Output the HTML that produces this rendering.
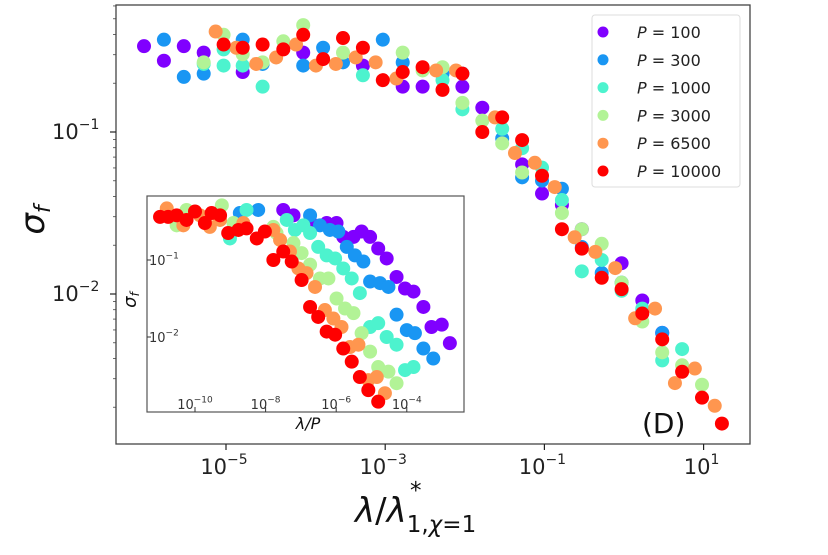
<!DOCTYPE html>
<html><head><meta charset="utf-8">
<style>
html,body{margin:0;padding:0;background:#fff;}
svg{display:block;font-family:"DejaVu Sans","Liberation Sans",sans-serif;}
</style></head>
<body>
<svg id="chart" width="828" height="555" viewBox="0 0 828 555"></svg>
<script>
// ---- data (log10 values) ----
const seriesNames = ["P = 100","P = 300","P = 1000","P = 3000","P = 6500","P = 10000"];
const seriesLabels = ["100","300","1000","3000","6500","10000"];
const colors = ["#8000ff","#1996f3","#4df3ce","#b2f396","#ff964f","#ff0000"];

const mainX100 = [-6.03,-5.78,-5.53,-5.28,-4.79,-4.03,-3.28,-2.78,-2.53,-2.03,-1.78,-1.28,-1.03,-0.78,-0.53,-0.03,0.23,0.48];
const mainY100 = [-0.47,-0.56,-0.47,-0.51,-0.63,-0.51,-0.59,-0.72,-0.72,-0.72,-0.85,-1.20,-1.38,-1.45,-1.60,-1.81,-2.04,-2.24];
const mainX300 = [-5.78,-5.53,-5.28,-4.79,-4.54,-4.03,-3.78,-3.53,-3.03,-2.78,-2.28,-2.03,-1.53,-1.28,-1.03,-0.78,-0.53,-0.28,-0.03,0.23,0.48];
const mainY300 = [-0.43,-0.66,-0.64,-0.43,-0.58,-0.59,-0.48,-0.57,-0.43,-0.57,-0.64,-0.64,-1.04,-1.28,-1.30,-1.35,-1.71,-1.87,-1.93,-2.10,-2.24];
const mainX1000 = [-5.28,-5.03,-5.03,-4.79,-4.54,-3.28,-2.28,-2.03,-1.53,-1.28,-1.03,-0.78,-0.53,-0.28,-0.03,0.23,0.48,0.73];
const mainY1000 = [-0.58,-0.49,-0.59,-0.59,-0.72,-0.65,-0.68,-0.86,-0.98,-1.10,-1.22,-1.42,-1.86,-1.79,-1.98,-2.09,-2.41,-2.34];
const mainX3000 = [-5.28,-5.03,-4.79,-4.54,-4.28,-4.03,-3.53,-2.78,-2.53,-2.28,-2.03,-1.78,-1.53,-1.28,-0.78,-0.53,-0.28,-0.03,0.23,0.48,0.73,0.98];
const mainY3000 = [-0.57,-0.40,-0.52,-0.57,-0.44,-0.34,-0.51,-0.51,-0.62,-0.60,-0.82,-0.93,-1.07,-1.25,-1.50,-1.60,-1.69,-1.93,-2.17,-2.36,-2.44,-2.56];
const mainX6500 = [-5.13,-4.87,-4.62,-4.37,-4.12,-3.87,-3.62,-3.37,-3.12,-2.86,-2.36,-2.11,-1.62,-1.37,-1.12,-0.87,-0.62,-0.36,-0.11,0.14,0.39,0.64,0.89,1.14];
const mainY6500 = [-0.38,-0.48,-0.58,-0.54,-0.46,-0.59,-0.58,-0.54,-0.57,-0.67,-0.62,-0.62,-0.91,-1.13,-1.19,-1.34,-1.65,-1.74,-1.84,-2.15,-2.09,-2.55,-2.46,-2.69];
const mainX10000 = [-5.03,-4.79,-4.54,-4.28,-4.03,-3.78,-3.53,-3.28,-3.03,-2.78,-2.53,-2.28,-2.03,-1.78,-1.53,-1.28,-1.03,-0.78,-0.53,-0.28,-0.03,0.23,0.48,0.73,0.98,1.23];
const mainY10000 = [-0.46,-0.48,-0.46,-0.49,-0.40,-0.55,-0.42,-0.48,-0.68,-0.63,-0.60,-0.74,-0.64,-1.00,-0.91,-1.05,-1.27,-1.60,-1.72,-1.90,-1.97,-2.12,-2.28,-2.48,-2.64,-2.80];

const insX100 = [-7.50,-7.21,-6.74,-6.27,-5.99,-5.80,-5.51,-5.28,-5.04,-4.81,-4.57,-4.29,-4.05,-3.81,-3.53,-3.30,-3.01,-2.78];
const insY100 = [-0.35,-0.42,-0.50,-0.52,-0.52,-0.70,-0.70,-0.63,-0.70,-0.85,-0.98,-1.22,-1.37,-1.41,-1.61,-1.87,-1.84,-2.08];
const insX300 = [-8.73,-8.21,-6.74,-6.46,-6.18,-5.94,-5.70,-5.47,-5.23,-5.04,-4.76,-4.52,-4.29,-4.00,-3.77,-3.53,-3.25];
const insY300 = [-0.39,-0.35,-0.42,-0.55,-0.61,-0.63,-0.83,-0.94,-1.02,-1.28,-1.30,-1.35,-1.71,-1.91,-1.95,-2.15,-2.28];
const insX1000 = [-9.01,-8.54,-7.40,-7.17,-6.93,-6.74,-6.51,-6.27,-6.03,-5.80,-5.56,-5.33,-5.04,-4.81,-4.57,-4.29,-4.05,-3.81];
const insY1000 = [-0.72,-0.35,-0.48,-0.61,-0.55,-0.65,-0.83,-0.94,-0.98,-1.11,-1.24,-1.43,-1.87,-1.82,-2.00,-2.10,-2.43,-2.39];
const insX3000 = [-10.52,-10.24,-9.24,-8.91,-7.78,-7.69,-7.21,-6.98,-6.74,-6.46,-6.22,-5.99,-5.75,-5.51,-5.28,-5.04,-4.81,-4.52,-4.29];
const insY3000 = [-0.55,-0.35,-0.29,-0.52,-0.57,-0.65,-0.78,-0.91,-1.06,-1.24,-1.24,-1.50,-1.63,-1.69,-1.95,-2.19,-2.39,-2.45,-2.60];
const insX6500 = [-10.80,-10.33,-9.86,-9.58,-9.29,-8.63,-7.78,-7.59,-7.31,-7.07,-6.84,-6.60,-6.32,-6.08,-5.85,-5.61,-5.37,-5.09,-4.85,-4.62];
const insY6500 = [-0.33,-0.55,-0.42,-0.57,-0.48,-0.52,-0.61,-0.74,-0.89,-1.11,-1.17,-1.35,-1.65,-1.76,-1.87,-2.13,-2.10,-2.56,-2.52,-2.73];
const insX10000 = [-10.99,-10.76,-10.52,-10.24,-10.00,-9.72,-9.53,-9.29,-9.06,-8.77,-8.54,-8.25,-8.02,-7.78,-7.50,-7.26,-6.98,-6.74,-6.51,-6.27,-6.03,-5.80,-5.56,-5.33,-5.09,-4.81];
const insY10000 = [-0.44,-0.44,-0.42,-0.48,-0.37,-0.52,-0.39,-0.42,-0.65,-0.61,-0.59,-0.72,-0.63,-1.00,-0.89,-1.02,-1.26,-1.61,-1.74,-1.93,-1.97,-2.15,-2.32,-2.52,-2.69,-2.84];

const mainXs = [mainX100,mainX300,mainX1000,mainX3000,mainX6500,mainX10000];
const mainYs = [mainY100,mainY300,mainY1000,mainY3000,mainY6500,mainY10000];
const insXs = [insX100,insX300,insX1000,insX3000,insX6500,insX10000];
const insYs = [insY100,insY300,insY1000,insY3000,insY6500,insY10000];

const mainXTicks = [-5,-3,-1,1];
const mainYTicks = [-1,-2];
const insXTicks = [-10,-8,-6,-4];
const insYTicks = [-1,-2];

// ---- scales ----
const MX0=116, MX1=750, MY0=5, MY1=444;
function mx(l){ return 624 + l*79.6; }
function my(l){ return 132 - (l+1)*162; }
const IX0=147, IX1=464, IY0=196, IY1=412;
function ix(l){ return 195 + (l+10)*35.3; }
function iy(l){ return 260 - (l+1)*77; }

const NS="http://www.w3.org/2000/svg";
const svg=document.getElementById('chart');
function el(tag, attrs, parent){
  const e=document.createElementNS(NS,tag);
  for(const k in attrs) e.setAttribute(k,attrs[k]);
  (parent||svg).appendChild(e);
  return e;
}
function sup(textEl, base, exp, expSize){
  const t1=document.createElementNS(NS,'tspan'); t1.textContent=base; textEl.appendChild(t1);
  const t2=document.createElementNS(NS,'tspan'); t2.textContent=exp; t2.setAttribute('dy', -expSize*0.7); t2.setAttribute('font-size', expSize); textEl.appendChild(t2);
}

const frame=el('rect',{x:MX0,y:MY0,width:MX1-MX0,height:MY1-MY0,fill:'#fff',stroke:'#444','stroke-width':1.3});



mainXTicks.forEach(function(t){
  const X=mx(t);
  const tk=el('line',{x1:X,x2:X,y1:MY1,y2:MY1+6,stroke:'#222','stroke-width':1.2});
  
  
  const tx=el('text',{x:X-2,y:MY1+30,'text-anchor':'middle','font-size':21,fill:'#222'});
  
  
  sup(tx,'10',(t<0?'\u2212':'')+Math.abs(t),14);
});
for(let d=-3; d<=0; d++){
  for(let m=2;m<=9;m++){
    const Y=my(d+Math.log10(m));
    if(Y>MY0 && Y<MY1){
      const mt=el('line',{x1:MX0-3,x2:MX0,y1:Y,y2:Y,stroke:'#444','stroke-width':0.8});
      
      
    }
  }
}
mainYTicks.forEach(function(t){
  const Y=my(t);
  const tk=el('line',{x1:MX0-6,x2:MX0,y1:Y,y2:Y,stroke:'#222','stroke-width':1.2});
  
  
  const tx=el('text',{x:52,y:Y+7,'text-anchor':'start','font-size':21,fill:'#222'});
  
  
  sup(tx,'10','\u2212'+Math.abs(t),14);
});

for(let s=0;s<6;s++){
  const g=el('g',{});
  
  
  for(let i=0;i<mainXs[s].length;i++){
    const c=el('circle',{cx:mx(mainXs[s][i]),cy:my(mainYs[s][i]),r:7,fill:colors[s]},g);
    
    
  }
}

const yl=el('text',{x:0,y:0,transform:'translate(44,220) rotate(-90)','text-anchor':'middle','font-size':34,'font-style':'italic',fill:'#111'});


yl.innerHTML='σ<tspan font-size="22" dy="6">f</tspan>';
const xl=el('text',{x:355,y:522,'font-size':34,fill:'#111'});


xl.innerHTML='<tspan font-style="italic">λ</tspan>/<tspan font-style="italic">λ</tspan><tspan font-size="23" dy="10">1,</tspan><tspan font-size="23" font-style="italic">χ</tspan><tspan font-size="23">=1</tspan><tspan font-size="23" x="410" dy="-34">*</tspan>';

const dl=el('text',{x:642,y:433,'font-size':28,fill:'#111'});


dl.textContent='(D)';

const inset=el('rect',{x:IX0,y:IY0,width:IX1-IX0,height:IY1-IY0,fill:'#fff',stroke:'#555','stroke-width':1.2});


const clip=el('clipPath',{id:'insclip'});
el('rect',{x:IX0,y:IY0,width:IX1-IX0,height:IY1-IY0},clip);
for(let s=0;s<6;s++){
  const g=el('g',{'clip-path':'url(#insclip)'});
  
  
  for(let i=0;i<insXs[s].length;i++){
    const c=el('circle',{cx:ix(insXs[s][i]),cy:iy(insYs[s][i]),r:7,fill:colors[s]},g);
    
    
  }
}
insXTicks.forEach(function(t){
  const X=ix(t);
  const tk=el('line',{x1:X,x2:X,y1:IY1,y2:IY1-5,stroke:'#333','stroke-width':1});
  
  
  const tx=el('text',{x:X,y:IY1-3,'text-anchor':'middle','font-size':13,fill:'#333'});
  
  
  sup(tx,'10','\u2212'+Math.abs(t),9);
});
insYTicks.forEach(function(t){
  const Y=iy(t);
  const tk=el('line',{x1:IX0,x2:IX0+4,y1:Y,y2:Y,stroke:'#333','stroke-width':1});
  
  
  const tx=el('text',{x:IX0+2,y:Y+5,'font-size':13,fill:'#333'});
  
  
  sup(tx,'10','\u2212'+Math.abs(t),9);
});
const ixl=el('text',{x:308,y:429,'text-anchor':'middle','font-size':16,'font-style':'italic',fill:'#111'});


ixl.textContent='λ/P';
const iyl=el('text',{x:0,y:0,transform:'translate(136,300) rotate(-90)','text-anchor':'middle','font-size':18,'font-style':'italic',fill:'#111'});


iyl.innerHTML='σ<tspan font-size="12" dy="3">f</tspan>';

const lg=el('g',{});


el('rect',{x:592,y:15,width:148,height:172,rx:3,fill:'#fff','fill-opacity':0.85,stroke:'#ddd','stroke-width':1},lg);
for(let s=0;s<6;s++){
  const Y=32+s*27.8;
  const e=el('g',{},lg);
  
  
  el('circle',{cx:603,cy:Y,r:5.5,fill:colors[s]},e);
  const t=el('text',{x:637,y:Y+6,'font-size':16,fill:'#222'},e);
  t.innerHTML='<tspan font-style="italic">P</tspan> = '+seriesLabels[s];
}
</script>
</body></html>
